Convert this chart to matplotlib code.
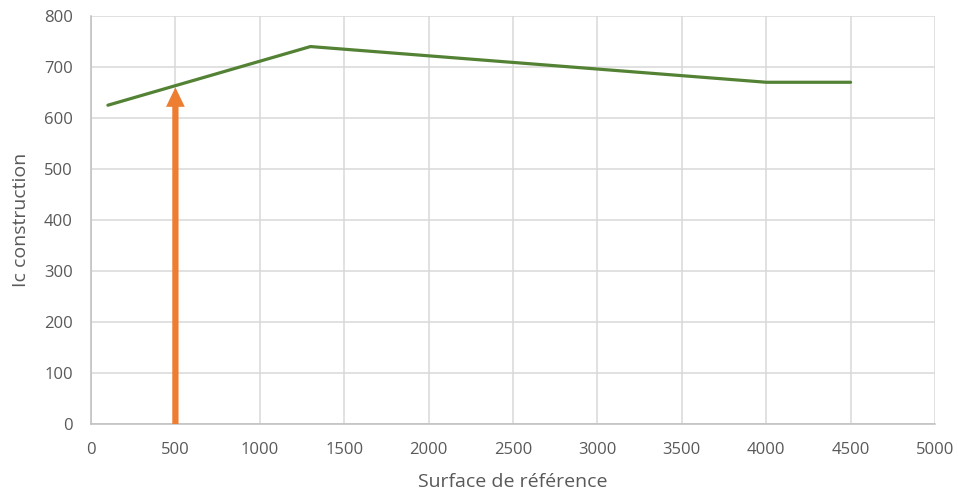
import matplotlib.pyplot as plt
from matplotlib.patches import FancyArrowPatch

# data
surface = [100, 1300, 4000, 4500]
ic_construction = [625, 740, 670, 670]
arrow_x = 500
arrow_top = 660

plt.rcParams['font.family'] = ['Open Sans', 'DejaVu Sans']

fig = plt.figure(figsize=(9.58, 4.94), dpi=100)
ax = fig.add_axes([0.095, 0.1417, 0.881, 0.826])

ax.plot(surface, ic_construction, color='#548235', linewidth=2.3,
        solid_capstyle='round', solid_joinstyle='round', zorder=3)

# orange arrow pointing to the line
arrow = FancyArrowPatch((arrow_x, 0), (arrow_x, arrow_top),
                        arrowstyle='simple,head_length=1.4,head_width=1.35,tail_width=0.45',
                        mutation_scale=10, color='#ED7D31', lw=0,
                        shrinkA=0, shrinkB=0, zorder=4)
ax.add_patch(arrow)

ax.set_xlim(0, 5000)
ax.set_ylim(0, 800)
ax.set_xticks(range(0, 5001, 500))
ax.set_yticks(range(0, 801, 100))
ax.grid(True, color='#D9D9D9', linewidth=1.1)
ax.set_axisbelow(True)

for side in ['top', 'right']:
    ax.spines[side].set_visible(False)
for side in ['left', 'bottom']:
    ax.spines[side].set_color('#BFBFBF')
    ax.spines[side].set_linewidth(1.1)

ax.tick_params(length=0, labelsize=12, labelcolor='#595959')
ax.tick_params(axis='x', pad=13)
ax.tick_params(axis='y', pad=13)
ax.set_xlabel('Surface de référence', fontsize=14, color='#595959', labelpad=11)
ax.set_ylabel('Ic construction', fontsize=14, color='#595959', labelpad=10)

fig.savefig('out.png', dpi=100)
